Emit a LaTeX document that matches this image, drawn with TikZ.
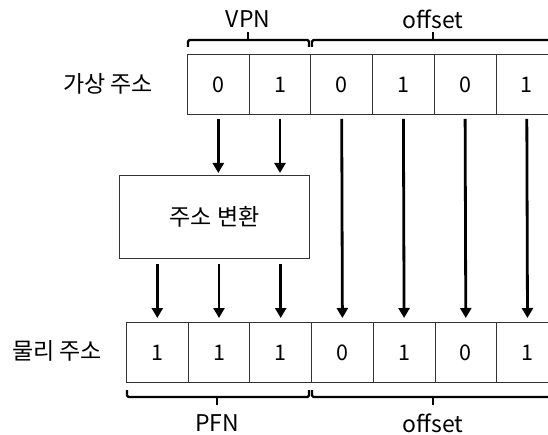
\documentclass[tikz,border=0pt]{standalone}
\usepackage{fontspec}
\setmainfont{Noto Sans CJK KR}
\usetikzlibrary{arrows.meta}
\tikzset{
  cell/.style={draw=black!80, line width=0.9pt, minimum width=61.7pt, minimum height=60pt,
    inner sep=0pt, font=\fontsize{21.5}{24}\selectfont},
  xbox/.style={draw=black!80, line width=0.9pt, minimum width=190pt, minimum height=83pt,
    inner sep=0pt, font=\fontsize{23}{26}\selectfont},
  lbl/.style={inner sep=0pt, font=\fontsize{23}{26}\selectfont},
  brace/.style={line width=2.4pt, rounded corners=1.5pt},
  flow/.style={line width=2.8pt, -{Triangle[length=10pt,width=11pt]}},
}
\begin{document}
\begin{tikzpicture}[x=1pt, y=-1pt]
\clip (0,0) rectangle (548,435);
\fill[white] (0,0) rectangle (548,435);

% virtual address row
\node[lbl] (vlabel) at (108,84) {가상 주소};
\foreach \b [count=\i] in {0,1,0,1,0,1}
  \node[cell, anchor=north west] (v\i) at ({187+61.7*(\i-1)},54) {\b};

% physical address row
\node[lbl] (plabel) at (57,351) {물리 주소};
\foreach \b [count=\i] in {1,1,1,0,1,0,1}
  \node[cell, anchor=north west] (p\i) at ({126+61.7*(\i-1)},322) {\b};

% translation box
\node[xbox, anchor=north west] (xlate) at (119,175) {주소 변환};

% upper braces
\coordinate (vb1) at (188,40);
\coordinate (vb2) at (309,40);
\coordinate (ob1) at (312,40);
\coordinate (ob2) at (560,40);
\draw[brace] ([yshift=-7pt]vb1) -- (vb1) -- (vb2) -- ([yshift=-7pt]vb2);
\draw[brace] ([yshift=-7pt]ob1) -- (ob1) -- (ob2);
\draw[line width=2.4pt] (248,40) -- (248,32);
\draw[line width=2.4pt] (433,40) -- (433,32);
\node[lbl] (vpn) at (248,19) {VPN};
\node[lbl] (voff) at (433,19) {offset};

% lower braces
\coordinate (pb1) at (127,397);
\coordinate (pb2) at (309,397);
\coordinate (qb1) at (312,397);
\coordinate (qb2) at (560,397);
\draw[brace] ([yshift=7pt]pb1) -- (pb1) -- (pb2) -- ([yshift=7pt]pb2);
\draw[brace] ([yshift=7pt]qb1) -- (qb1) -- (qb2);
\draw[line width=2.4pt] (217,397) -- (217,405);
\draw[line width=2.4pt] (433,397) -- (433,405);
\node[lbl] (pfn) at (217,423) {PFN};
\node[lbl] (poff) at (433,423) {offset};

% VPN bits into the translation box
\foreach \i in {1,2}
  \draw[flow, shorten <=4pt, shorten >=2pt] (v\i.south) -- (v\i.south |- xlate.north);

% PFN bits out of the translation box
\foreach \i in {1,2,3}
  \draw[flow, shorten <=5pt, shorten >=4pt] (p\i.north |- xlate.south) -- (p\i.north);

% offset bits copied straight down
\foreach \i [evaluate=\i as \j using int(\i+1)] in {3,4,5,6}
  \draw[flow, shorten <=4pt, shorten >=4pt] (v\i.south) -- (p\j.north);
\end{tikzpicture}
\end{document}
